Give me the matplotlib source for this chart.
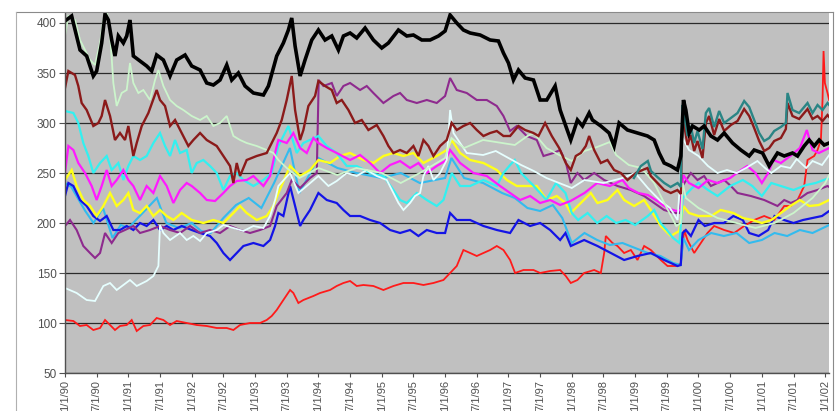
import matplotlib
matplotlib.use("Agg")
import matplotlib.pyplot as plt
from matplotlib.lines import Line2D

# (decimal year, value)
black = [(1990.0, 402), (1990.105, 407), (1990.237, 373), (1990.342, 367), (1990.447, 347), (1990.5, 352),
         (1990.579, 380), (1990.632, 409), (1990.684, 403), (1990.737, 383), (1990.789, 367), (1990.842, 387),
         (1990.921, 380), (1990.974, 387), (1991.026, 403), (1991.079, 367), (1991.184, 362), (1991.289, 357),
         (1991.368, 352), (1991.447, 368), (1991.553, 363), (1991.658, 347), (1991.763, 363), (1991.895, 368),
         (1992.0, 357), (1992.132, 353), (1992.237, 340), (1992.342, 338), (1992.447, 343), (1992.553, 358),
         (1992.632, 343), (1992.737, 350), (1992.842, 337), (1992.974, 330), (1993.132, 328), (1993.211, 337),
         (1993.342, 367), (1993.447, 380), (1993.526, 393), (1993.579, 405), (1993.632, 377), (1993.711, 347),
         (1993.789, 363), (1993.895, 383), (1994.0, 393), (1994.105, 383), (1994.211, 387), (1994.316, 373),
         (1994.395, 387), (1994.5, 390), (1994.605, 385), (1994.737, 395), (1994.868, 383), (1995.0, 375),
         (1995.105, 380), (1995.263, 393), (1995.395, 387), (1995.5, 388), (1995.632, 383), (1995.763, 383),
         (1995.895, 387), (1996.0, 392), (1996.079, 408), (1996.184, 400), (1996.289, 393), (1996.395, 390),
         (1996.553, 388), (1996.711, 383), (1996.842, 382), (1996.921, 370), (1997.0, 360), (1997.079, 343),
         (1997.158, 353), (1997.263, 345), (1997.395, 343), (1997.5, 323), (1997.605, 323), (1997.737, 337),
         (1997.816, 313), (1997.905, 297), (1997.984, 283), (1998.037, 293), (1998.089, 303), (1998.168, 297),
         (1998.274, 310), (1998.326, 303), (1998.458, 297), (1998.589, 290), (1998.668, 277), (1998.747, 300),
         (1998.879, 293), (1999.037, 290), (1999.195, 287), (1999.3, 283), (1999.379, 270), (1999.458, 260),
         (1999.563, 257), (1999.668, 253), (1999.721, 267), (1999.763, 323), (1999.8, 313), (1999.853, 290),
         (1999.905, 297), (2000.011, 293), (2000.089, 297), (2000.195, 287), (2000.3, 283), (2000.405, 290),
         (2000.537, 280), (2000.668, 273), (2000.8, 267), (2000.879, 273), (2001.011, 270), (2001.116, 257),
         (2001.247, 270), (2001.353, 267), (2001.484, 270), (2001.563, 267), (2001.668, 277), (2001.747, 283),
         (2001.826, 277), (2001.905, 283), (2001.984, 278), (2002.063, 280)]

maroon = [(1990.0, 335), (1990.053, 352), (1990.158, 348), (1990.21, 337), (1990.263, 320), (1990.342, 313),
          (1990.447, 297), (1990.526, 300), (1990.579, 307), (1990.632, 323), (1990.711, 307), (1990.789, 283),
          (1990.868, 290), (1990.947, 283), (1991.0, 297), (1991.079, 267), (1991.132, 280), (1991.211, 297),
          (1991.316, 310), (1991.447, 333), (1991.5, 323), (1991.579, 317), (1991.658, 297), (1991.737, 303),
          (1991.842, 290), (1991.947, 277), (1992.026, 283), (1992.132, 290), (1992.237, 283), (1992.395, 277),
          (1992.5, 267), (1992.605, 257), (1992.658, 240), (1992.711, 260), (1992.763, 247), (1992.868, 263),
          (1993.026, 267), (1993.184, 270), (1993.342, 290), (1993.421, 303), (1993.5, 323), (1993.579, 347),
          (1993.632, 313), (1993.711, 283), (1993.763, 293), (1993.842, 317), (1993.947, 327), (1994.0, 342),
          (1994.105, 337), (1994.211, 333), (1994.289, 320), (1994.368, 323), (1994.474, 313), (1994.579, 300),
          (1994.684, 303), (1994.789, 293), (1994.921, 298), (1995.026, 287), (1995.105, 277), (1995.184, 270),
          (1995.289, 273), (1995.395, 270), (1995.5, 277), (1995.579, 267), (1995.658, 283), (1995.737, 277),
          (1995.816, 267), (1995.921, 277), (1996.026, 283), (1996.105, 300), (1996.184, 293), (1996.289, 297),
          (1996.395, 300), (1996.5, 293), (1996.605, 287), (1996.711, 290), (1996.816, 292), (1996.921, 287),
          (1997.026, 287), (1997.158, 297), (1997.263, 293), (1997.395, 290), (1997.474, 287), (1997.579, 300),
          (1997.684, 287), (1997.8, 275), (1997.905, 260), (1997.984, 253), (1998.063, 267), (1998.142, 270),
          (1998.221, 277), (1998.274, 287), (1998.353, 273), (1998.458, 260), (1998.563, 263), (1998.668, 253),
          (1998.774, 250), (1998.879, 243), (1999.011, 250), (1999.116, 253), (1999.195, 255), (1999.247, 247),
          (1999.353, 240), (1999.458, 233), (1999.563, 230), (1999.668, 233), (1999.721, 229), (1999.747, 308),
          (1999.774, 298), (1999.826, 278), (1999.879, 288), (1999.932, 272), (1999.984, 282), (2000.063, 265),
          (2000.116, 300), (2000.168, 307), (2000.247, 288), (2000.326, 304), (2000.405, 292), (2000.511, 298),
          (2000.616, 302), (2000.721, 314), (2000.8, 307), (2000.879, 295), (2000.958, 282), (2001.037, 272),
          (2001.116, 275), (2001.195, 282), (2001.3, 285), (2001.379, 294), (2001.405, 320), (2001.484, 307),
          (2001.589, 304), (2001.721, 314), (2001.8, 304), (2001.879, 307), (2001.958, 302), (2002.037, 308),
          (2002.063, 306)]

teal = [(1998.98, 245), (1999.09, 257), (1999.2, 262), (1999.25, 252), (1999.35, 246), (1999.46, 240),
        (1999.56, 236), (1999.67, 240), (1999.72, 236), (1999.747, 318), (1999.774, 308), (1999.826, 287),
        (1999.879, 297), (1999.932, 280), (1999.984, 292), (2000.063, 274), (2000.116, 310), (2000.168, 315),
        (2000.247, 296), (2000.326, 312), (2000.405, 300), (2000.511, 305), (2000.616, 310), (2000.721, 322),
        (2000.8, 316), (2000.879, 303), (2000.958, 290), (2001.037, 282), (2001.116, 285), (2001.195, 292),
        (2001.3, 296), (2001.379, 300), (2001.405, 330), (2001.484, 313), (2001.589, 310), (2001.721, 320),
        (2001.8, 310), (2001.879, 318), (2001.958, 313), (2002.037, 320), (2002.063, 318)]

pale_green = [(1990.0, 387), (1990.053, 407), (1990.158, 403), (1990.237, 383), (1990.316, 373), (1990.395, 363),
              (1990.474, 358), (1990.553, 380), (1990.605, 403), (1990.658, 412), (1990.711, 390), (1990.763, 340),
              (1990.816, 317), (1990.895, 330), (1990.974, 333), (1991.026, 360), (1991.079, 340), (1991.158, 330),
              (1991.237, 333), (1991.342, 323), (1991.421, 343), (1991.474, 353), (1991.553, 337), (1991.658, 323),
              (1991.763, 317), (1991.868, 313), (1992.0, 307), (1992.132, 303), (1992.237, 307), (1992.342, 297),
              (1992.447, 300), (1992.553, 307), (1992.658, 287), (1992.763, 283), (1992.868, 280), (1993.026, 277),
              (1993.184, 273), (1993.289, 270), (1993.368, 263), (1993.5, 255), (1993.7, 245), (1994.0, 255),
              (1994.3, 248), (1994.6, 255), (1995.0, 250), (1995.3, 240), (1995.6, 250), (1996.0, 265),
              (1996.1, 285), (1996.3, 275), (1996.6, 283), (1996.9, 280), (1997.1, 278), (1997.3, 287),
              (1997.4, 290), (1997.6, 275), (1997.8, 268), (1998.0, 262), (1998.2, 272), (1998.4, 276),
              (1998.6, 281), (1998.7, 268), (1998.9, 258), (1999.1, 255), (1999.3, 240), (1999.5, 215),
              (1999.65, 197), (1999.72, 200), (1999.75, 240), (1999.8, 225), (2000.0, 215), (2000.3, 205),
              (2000.6, 200), (2000.9, 195), (2001.2, 200), (2001.5, 210), (2001.8, 225), (2002.0, 240),
              (2002.063, 248)]

pale_cyan = [(1990.0, 135), (1990.184, 130), (1990.342, 123), (1990.474, 122), (1990.605, 137), (1990.711, 140),
             (1990.816, 133), (1990.921, 138), (1991.026, 143), (1991.132, 137), (1991.289, 142), (1991.395, 147),
             (1991.474, 157), (1991.5, 198), (1991.553, 190), (1991.658, 183), (1991.816, 190), (1991.921, 183),
             (1992.026, 187), (1992.132, 182), (1992.237, 190), (1992.395, 193), (1992.5, 198), (1992.658, 195),
             (1992.816, 192), (1992.974, 197), (1993.132, 195), (1993.237, 207), (1993.316, 223), (1993.368, 237),
             (1993.553, 250), (1993.684, 230), (1993.816, 237), (1994.0, 247), (1994.158, 237), (1994.289, 242),
             (1994.447, 250), (1994.605, 247), (1994.763, 253), (1994.921, 247), (1995.079, 243), (1995.184, 230),
             (1995.263, 220), (1995.342, 213), (1995.447, 220), (1995.526, 227), (1995.605, 230), (1995.658, 247),
             (1995.737, 257), (1995.816, 243), (1995.921, 250), (1996.026, 263), (1996.079, 313), (1996.132, 290),
             (1996.237, 280), (1996.342, 270), (1996.6, 268), (1996.8, 272), (1997.0, 265), (1997.2, 258),
             (1997.4, 252), (1997.6, 245), (1997.8, 240), (1998.0, 235), (1998.2, 243), (1998.5, 240),
             (1998.8, 245), (1999.0, 250), (1999.2, 235), (1999.4, 222), (1999.55, 215), (1999.67, 203),
             (1999.75, 285), (1999.85, 273), (2000.0, 267), (2000.15, 257), (2000.3, 250), (2000.45, 253),
             (2000.6, 250), (2000.75, 255), (2000.93, 262), (2001.05, 255), (2001.15, 250), (2001.3, 257),
             (2001.45, 255), (2001.55, 264), (2001.7, 255), (2001.8, 262), (2001.95, 258), (2002.063, 268)]

cyan = [(1990.0, 312), (1990.132, 310), (1990.21, 300), (1990.289, 280), (1990.368, 267), (1990.447, 250),
        (1990.553, 260), (1990.658, 267), (1990.737, 253), (1990.842, 260), (1990.921, 243), (1991.0, 257),
        (1991.079, 267), (1991.184, 263), (1991.289, 267), (1991.395, 280), (1991.5, 290), (1991.579, 277),
        (1991.658, 267), (1991.737, 283), (1991.816, 270), (1991.921, 273), (1992.0, 250), (1992.079, 260),
        (1992.184, 263), (1992.289, 257), (1992.395, 250), (1992.5, 233), (1992.605, 247), (1992.711, 250),
        (1992.816, 243), (1992.974, 237), (1993.132, 243), (1993.263, 250), (1993.368, 277), (1993.526, 297),
        (1993.658, 270), (1993.763, 280), (1994.0, 287), (1994.132, 277), (1994.289, 270), (1994.447, 257),
        (1994.605, 257), (1994.816, 250), (1995.026, 247), (1995.184, 233), (1995.289, 223), (1995.395, 220),
        (1995.553, 230), (1995.711, 223), (1995.868, 217), (1995.974, 223), (1996.105, 250), (1996.237, 237),
        (1996.395, 237), (1996.605, 243), (1996.816, 237), (1996.921, 250), (1997.026, 258), (1997.1, 263),
        (1997.2, 250), (1997.4, 237), (1997.6, 223), (1997.75, 240), (1997.9, 230), (1998.0, 210),
        (1998.1, 203), (1998.25, 210), (1998.4, 200), (1998.55, 207), (1998.7, 200), (1998.85, 203),
        (1999.0, 198), (1999.2, 207), (1999.3, 213), (1999.4, 200), (1999.5, 193), (1999.6, 185),
        (1999.7, 180), (1999.75, 225), (1999.9, 235), (2000.0, 240), (2000.15, 233), (2000.3, 227),
        (2000.5, 237), (2000.7, 243), (2000.85, 237), (2001.0, 227), (2001.15, 240), (2001.3, 237),
        (2001.5, 233), (2001.7, 238), (2001.85, 240), (2002.063, 245)]

sky_blue = [(1990.0, 240), (1990.1, 236), (1990.2, 225), (1990.32, 212), (1990.45, 200), (1990.6, 215),
            (1990.75, 185), (1990.88, 198), (1991.0, 195), (1991.15, 205), (1991.3, 215), (1991.45, 225),
            (1991.6, 200), (1991.8, 195), (1992.0, 200), (1992.15, 192), (1992.3, 190), (1992.5, 205),
            (1992.7, 218), (1992.9, 225), (1993.1, 215), (1993.3, 240), (1993.55, 275), (1993.7, 230),
            (1994.0, 265), (1994.3, 255), (1994.6, 250), (1995.0, 245), (1995.3, 250), (1995.6, 240),
            (1996.0, 245), (1996.1, 265), (1996.3, 245), (1996.6, 240), (1996.9, 230), (1997.1, 225),
            (1997.3, 215), (1997.5, 212), (1997.7, 218), (1997.85, 205), (1998.0, 180), (1998.2, 190),
            (1998.4, 183), (1998.6, 178), (1998.8, 180), (1999.0, 175), (1999.2, 170), (1999.4, 167),
            (1999.6, 160), (1999.72, 158), (1999.76, 185), (1999.85, 173), (2000.0, 183), (2000.2, 190),
            (2000.4, 187), (2000.6, 190), (2000.8, 180), (2001.0, 183), (2001.2, 190), (2001.4, 187),
            (2001.6, 193), (2001.8, 190), (2002.063, 198)]

magenta = [(1990.0, 250), (1990.053, 277), (1990.132, 273), (1990.21, 260), (1990.316, 250), (1990.421, 237),
           (1990.5, 223), (1990.579, 237), (1990.658, 253), (1990.737, 237), (1990.816, 243), (1990.921, 253),
           (1991.0, 243), (1991.079, 237), (1991.184, 223), (1991.289, 237), (1991.395, 230), (1991.5, 247),
           (1991.605, 237), (1991.711, 220), (1991.816, 233), (1991.921, 240), (1992.0, 237), (1992.132, 230),
           (1992.237, 223), (1992.368, 222), (1992.5, 230), (1992.605, 237), (1992.711, 242), (1992.868, 243),
           (1992.974, 247), (1993.132, 237), (1993.237, 247), (1993.316, 270), (1993.368, 283), (1993.5, 280),
           (1993.605, 290), (1993.711, 275), (1993.816, 270), (1993.921, 285), (1994.0, 280), (1994.132, 275),
           (1994.289, 270), (1994.5, 263), (1994.658, 268), (1994.816, 260), (1994.974, 250), (1995.132, 258),
           (1995.289, 262), (1995.447, 255), (1995.579, 260), (1995.711, 250), (1995.868, 257), (1996.0, 262),
           (1996.079, 273), (1996.237, 260), (1996.447, 250), (1996.658, 247), (1996.868, 237), (1997.026, 230),
           (1997.184, 223), (1997.342, 227), (1997.5, 220), (1997.658, 223), (1997.816, 218), (1997.98, 222),
           (1998.2, 230), (1998.4, 240), (1998.6, 237), (1998.8, 243), (1998.9, 235), (1999.05, 230),
           (1999.2, 228), (1999.35, 222), (1999.5, 215), (1999.65, 212), (1999.72, 213), (1999.76, 248),
           (1999.85, 240), (2000.0, 235), (2000.15, 243), (2000.3, 240), (2000.5, 245), (2000.65, 252),
           (2000.77, 257), (2000.9, 250), (2001.0, 240), (2001.1, 250), (2001.18, 263), (2001.3, 260),
           (2001.45, 267), (2001.6, 275), (2001.71, 293), (2001.8, 273), (2001.9, 270), (2002.063, 275)]

yellow = [(1990.0, 243), (1990.105, 253), (1990.184, 237), (1990.289, 223), (1990.395, 217), (1990.5, 207),
          (1990.605, 217), (1990.711, 230), (1990.816, 217), (1990.921, 223), (1991.0, 230), (1991.079, 213),
          (1991.184, 210), (1991.289, 217), (1991.395, 207), (1991.5, 213), (1991.605, 207), (1991.711, 203),
          (1991.842, 210), (1992.0, 203), (1992.184, 200), (1992.342, 203), (1992.5, 200), (1992.658, 210),
          (1992.763, 217), (1992.868, 210), (1993.026, 203), (1993.184, 207), (1993.289, 217), (1993.368, 230),
          (1993.553, 257), (1993.711, 247), (1993.868, 253), (1994.0, 263), (1994.184, 260), (1994.342, 267),
          (1994.5, 270), (1994.711, 263), (1994.868, 260), (1995.026, 267), (1995.184, 270), (1995.342, 267),
          (1995.5, 270), (1995.658, 260), (1995.868, 267), (1996.026, 273), (1996.105, 283), (1996.237, 270),
          (1996.395, 263), (1996.605, 260), (1996.816, 253), (1996.974, 243), (1997.132, 237), (1997.289, 237),
          (1997.447, 237), (1997.605, 223), (1997.763, 227), (1997.9, 220), (1997.984, 210), (1998.142, 220),
          (1998.3, 230), (1998.405, 220), (1998.563, 223), (1998.721, 233), (1998.826, 223), (1998.984, 217),
          (1999.142, 223), (1999.247, 213), (1999.405, 197), (1999.563, 187), (1999.695, 192), (1999.76, 217),
          (1999.85, 210), (2000.0, 207), (2000.2, 207), (2000.35, 213), (2000.55, 210), (2000.7, 205),
          (2000.85, 203), (2001.0, 200), (2001.15, 203), (2001.3, 210), (2001.45, 217), (2001.6, 223),
          (2001.75, 217), (2001.9, 218), (2002.063, 223)]

blue = [(1990.0, 227), (1990.053, 240), (1990.132, 237), (1990.237, 223), (1990.342, 217), (1990.447, 207),
        (1990.553, 202), (1990.658, 207), (1990.763, 193), (1990.868, 193), (1990.974, 197), (1991.079, 193),
        (1991.184, 200), (1991.289, 197), (1991.395, 203), (1991.5, 193), (1991.605, 197), (1991.711, 193),
        (1991.842, 197), (1992.0, 193), (1992.132, 190), (1992.289, 187), (1992.395, 180), (1992.5, 170),
        (1992.605, 163), (1992.711, 170), (1992.816, 177), (1992.974, 180), (1993.132, 177), (1993.237, 183),
        (1993.316, 197), (1993.368, 210), (1993.447, 207), (1993.553, 237), (1993.632, 217), (1993.711, 197),
        (1993.763, 203), (1993.868, 213), (1994.0, 230), (1994.132, 223), (1994.289, 220), (1994.395, 213),
        (1994.5, 207), (1994.658, 207), (1994.816, 203), (1994.974, 200), (1995.132, 193), (1995.289, 190),
        (1995.447, 193), (1995.579, 187), (1995.711, 193), (1995.868, 190), (1996.0, 190), (1996.079, 210),
        (1996.184, 203), (1996.395, 203), (1996.605, 197), (1996.816, 193), (1997.026, 190), (1997.158, 203),
        (1997.342, 197), (1997.5, 200), (1997.658, 193), (1997.816, 183), (1997.9, 190), (1997.984, 177),
        (1998.195, 183), (1998.405, 177), (1998.616, 170), (1998.826, 163), (1999.037, 167), (1999.247, 170),
        (1999.458, 163), (1999.668, 157), (1999.72, 158), (1999.747, 190), (1999.8, 193), (1999.88, 187),
        (2000.0, 203), (2000.1, 197), (2000.25, 200), (2000.4, 200), (2000.55, 207), (2000.7, 203),
        (2000.8, 190), (2000.95, 187), (2001.1, 193), (2001.2, 207), (2001.35, 203), (2001.5, 200),
        (2001.65, 203), (2001.8, 205), (2001.95, 207), (2002.063, 212)]

purple = [(1990.0, 197), (1990.079, 203), (1990.184, 193), (1990.289, 177), (1990.395, 170), (1990.474, 165),
          (1990.553, 170), (1990.632, 190), (1990.737, 180), (1990.842, 190), (1990.947, 193), (1991.079, 197),
          (1991.184, 190), (1991.342, 193), (1991.5, 197), (1991.658, 193), (1991.816, 190), (1991.974, 197),
          (1992.132, 190), (1992.289, 193), (1992.447, 190), (1992.605, 197), (1992.763, 193), (1992.921, 190),
          (1993.079, 193), (1993.237, 197), (1993.342, 217), (1993.5, 230), (1993.579, 243), (1993.711, 235),
          (1993.868, 245), (1993.974, 250), (1994.005, 343), (1994.079, 337), (1994.211, 340), (1994.289, 327),
          (1994.395, 337), (1994.5, 340), (1994.658, 333), (1994.763, 337), (1994.868, 330), (1995.026, 320),
          (1995.184, 327), (1995.289, 330), (1995.395, 323), (1995.553, 320), (1995.711, 323), (1995.868, 320),
          (1996.0, 327), (1996.079, 345), (1996.184, 333), (1996.342, 330), (1996.5, 323), (1996.658, 323),
          (1996.816, 317), (1996.921, 307), (1997.026, 292), (1997.132, 297), (1997.289, 287), (1997.447, 283),
          (1997.553, 267), (1997.711, 270), (1997.816, 273), (1997.9, 262), (1997.984, 240), (1998.089, 250),
          (1998.195, 243), (1998.353, 250), (1998.511, 243), (1998.721, 237), (1998.932, 233), (1999.142, 227),
          (1999.3, 220), (1999.458, 213), (1999.616, 210), (1999.695, 210), (1999.747, 237), (1999.879, 250),
          (1999.984, 243), (2000.089, 247), (2000.195, 237), (2000.405, 243), (2000.511, 237), (2000.616, 230),
          (2000.826, 227), (2001.037, 223), (2001.247, 217), (2001.353, 223), (2001.458, 220), (2001.563, 223),
          (2001.721, 230), (2001.879, 233), (2002.037, 237), (2002.063, 236)]

red = [(1990.0, 103), (1990.132, 102), (1990.237, 97), (1990.342, 98), (1990.447, 93), (1990.553, 95),
       (1990.632, 103), (1990.711, 98), (1990.789, 93), (1990.868, 97), (1990.974, 98), (1991.053, 103),
       (1991.132, 92), (1991.237, 97), (1991.342, 98), (1991.447, 105), (1991.553, 103), (1991.658, 98),
       (1991.763, 102), (1991.921, 100), (1992.079, 98), (1992.237, 97), (1992.395, 95), (1992.553, 95),
       (1992.658, 93), (1992.763, 98), (1992.921, 100), (1993.079, 100), (1993.184, 103), (1993.263, 107),
       (1993.342, 113), (1993.447, 123), (1993.553, 133), (1993.605, 130), (1993.684, 120), (1993.763, 123),
       (1993.921, 127), (1994.026, 130), (1994.184, 133), (1994.289, 137), (1994.395, 140), (1994.5, 142),
       (1994.605, 137), (1994.711, 138), (1994.868, 137), (1995.026, 133), (1995.184, 137), (1995.342, 140),
       (1995.5, 140), (1995.658, 138), (1995.816, 140), (1995.974, 143), (1996.079, 150), (1996.184, 157),
       (1996.289, 173), (1996.395, 170), (1996.5, 167), (1996.605, 170), (1996.711, 173), (1996.816, 177),
       (1996.921, 173), (1997.026, 163), (1997.105, 150), (1997.237, 153), (1997.395, 153), (1997.5, 150),
       (1997.658, 152), (1997.816, 153), (1997.905, 147), (1997.984, 140), (1998.089, 143), (1998.195, 150),
       (1998.353, 153), (1998.458, 150), (1998.511, 170), (1998.537, 187), (1998.642, 180), (1998.721, 177),
       (1998.826, 170), (1998.932, 173), (1999.037, 163), (1999.142, 177), (1999.247, 173), (1999.405, 163),
       (1999.511, 157), (1999.668, 157), (1999.721, 160), (1999.774, 193), (1999.826, 183), (1999.932, 170),
       (2000.037, 180), (2000.142, 190), (2000.247, 197), (2000.405, 193), (2000.563, 190), (2000.721, 197),
       (2000.879, 203), (2001.037, 207), (2001.195, 203), (2001.353, 217), (2001.458, 217), (2001.563, 223),
       (2001.668, 237), (2001.721, 263), (2001.826, 267), (2001.879, 273), (2001.932, 283), (2001.958, 323),
       (2001.974, 372), (2001.995, 340), (2002.037, 330), (2002.063, 323)]

tick_labels = ["1/1/90", "7/1/90", "1/1/91", "7/1/91", "1/1/92", "7/1/92", "1/1/93", "7/1/93",
               "1/1/94", "7/1/94", "1/1/95", "7/1/95", "1/1/96", "7/1/96", "1/1/97", "7/1/97",
               "1/1/98", "7/1/98", "1/1/99", "7/1/99", "1/1/00", "7/1/00", "1/1/01", "7/1/01", "1/1/02"]
y_ticks = [50, 100, 150, 200, 250, 300, 350, 400]

# drawing order and styles
series = [
    (red, "#ff1a1a", 1.3),
    (sky_blue, "#33bbee", 1.5),
    (blue, "#1414e6", 1.6),
    (purple, "#8e2a8e", 1.5),
    (yellow, "#ffff1a", 1.7),
    (cyan, "#33f0f0", 1.6),
    (magenta, "#ff1aff", 1.6),
    (pale_cyan, "#e6ffff", 1.3),
    (pale_green, "#ccf5cc", 1.3),
    (maroon, "#8b1a1a", 1.7),
    (teal, "#2a8585", 1.7),
    (black, "#000000", 2.6),
]

plt.rcParams["font.family"] = ["Liberation Sans", "DejaVu Sans"]

W, H = 837, 411
fig = plt.figure(figsize=(W / 100, H / 100), dpi=100)
fig.patch.set_facecolor("white")

ax = fig.add_axes([65 / W, 1 - 373 / H, 764 / W, 360 / H])
ax.set_facecolor("#c0c0c0")

for pts, color, lw in series:
    t = [p[0] for p in pts]
    v = [p[1] for p in pts]
    ax.plot(t, v, color=color, lw=lw, solid_joinstyle="miter")

ax.set_xlim(1990, 2002.06)
ax.set_ylim(50, 410)
ax.set_yticks(y_ticks)
ax.set_yticklabels([str(y) for y in y_ticks])
ax.set_xticks([1990 + 0.5 * i for i in range(len(tick_labels))])
ax.set_xticklabels(tick_labels, rotation=90, va="top", ha="center")

ax.yaxis.grid(True, color="#2a2a2a", lw=0.9)
ax.set_axisbelow(True)
ax.tick_params(axis="y", length=4, width=0.8, color="#505050", labelcolor="#505050", labelsize=8.5, pad=2)
ax.tick_params(axis="x", length=3, width=0.8, color="#505050", labelcolor="#505050", labelsize=8, pad=2)

for side in ("top", "right"):
    ax.spines[side].set_visible(False)
for side in ("left", "bottom"):
    ax.spines[side].set_color("#505050")
    ax.spines[side].set_linewidth(1.0)

# chart frame around the plot
fig.add_artist(Line2D([16 / W, 833 / W], [1 - 12 / H, 1 - 12 / H], color="#8a8a8a", lw=0.8))
fig.add_artist(Line2D([16 / W, 16 / W], [0, 1 - 12 / H], color="#b0b0b0", lw=0.8))
fig.add_artist(Line2D([833 / W, 833 / W], [0, 1 - 12 / H], color="#8a8a8a", lw=0.8))

fig.savefig("out.png", dpi=100, facecolor=fig.get_facecolor())
